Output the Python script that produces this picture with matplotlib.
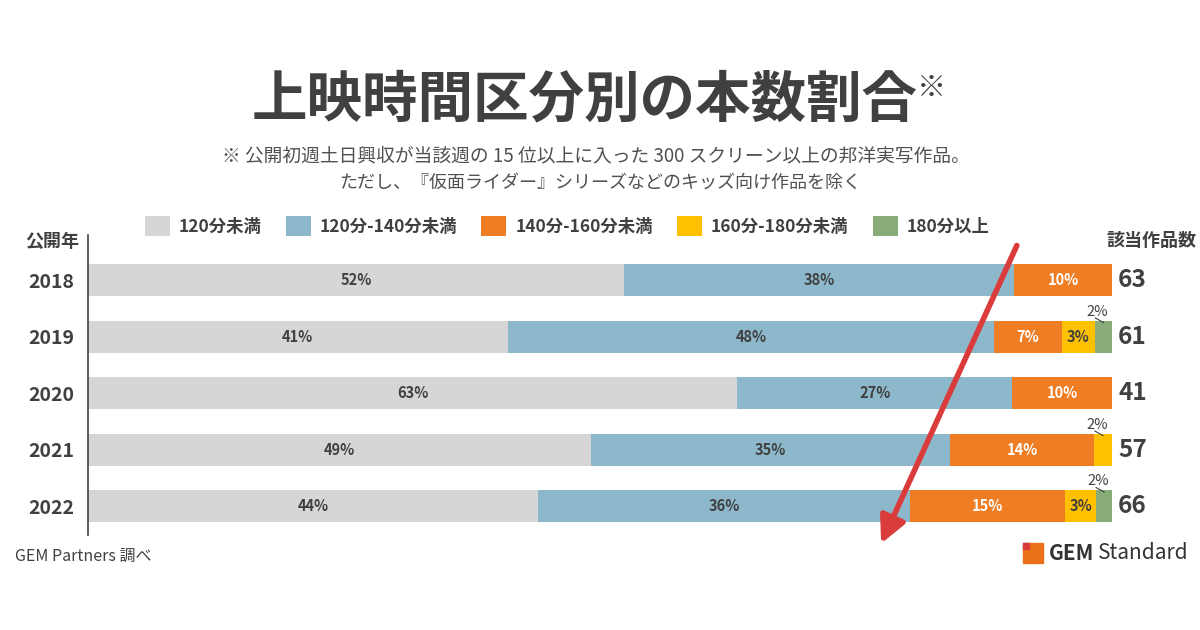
import numpy as np
import matplotlib
matplotlib.use('Agg')
import matplotlib.pyplot as plt
from matplotlib.patches import FancyArrowPatch, Rectangle

plt.rcParams['font.family'] = ['Noto Sans CJK JP', 'DejaVu Sans']

years = ['2018', '2019', '2020', '2021', '2022']
categories = ['120分未満', '120分-140分未満', '140分-160分未満', '160分-180分未満', '180分以上']
# estimated film counts per length class
under_120 = [33, 25, 26, 28, 29]
from_120 = [24, 29, 11, 20, 24]
from_140 = [6, 4, 4, 8, 10]
from_160 = [0, 2, 0, 1, 2]
over_180 = [0, 1, 0, 0, 1]
totals = [63, 61, 41, 57, 66]

colors = ['#D6D6D6', '#8DB8CB', '#EF7D24', '#FFC000', '#88AD79']
txt_colors = ['#404040', '#404040', 'white', '#404040', '#404040']
dark = '#404040'

series = np.array([under_120, from_120, from_140, from_160, over_180], dtype=float)
shares = series / np.array(totals, dtype=float)

fig = plt.figure(figsize=(12, 6.3), dpi=100)
ax = fig.add_axes([88 / 1200, 1 - 535 / 630, 1024 / 1200, 300 / 630])

y = np.arange(len(years))
left = np.zeros(len(years))
bars = []
for k in range(len(categories)):
    b = ax.barh(y, shares[k], left=left, height=0.57, color=colors[k],
                label=categories[k], zorder=2)
    bars.append(b)
    for i in range(len(years)):
        w = shares[k][i]
        if w <= 0:
            continue
        pct = '%d%%' % round(w * 100)
        cx = left[i] + w / 2
        if w < 0.025:
            # small segment: label above with a short leader line
            ax.text(cx - 0.006, y[i] - 0.44, pct, ha='center', va='center',
                    fontsize=10.5, color=dark)
            ax.plot([cx - 0.008, cx], [y[i] - 0.33, y[i] - 0.25], color=dark, lw=0.8, zorder=3)
        else:
            ax.text(cx, y[i], pct, ha='center', va='center', fontsize=10.5,
                    fontweight='bold', color=txt_colors[k], zorder=3)
    left += shares[k]

for i in range(len(years)):
    ax.text(1.006, y[i], str(totals[i]), ha='left', va='center', fontsize=17.5,
            fontweight='bold', color=dark, clip_on=False)

ax.set_xlim(0, 1)
ax.set_ylim(4.51, -0.80)
ax.set_yticks(y)
ax.set_yticklabels(years, fontsize=14, fontweight='bold', color=dark)
ax.tick_params(axis='y', length=0, pad=10)
ax.set_xticks([])
for s in ['top', 'right', 'bottom']:
    ax.spines[s].set_visible(False)
ax.spines['left'].set_color(dark)
ax.spines['left'].set_linewidth(1.2)

leg = ax.legend(handles=bars, loc='center', bbox_to_anchor=(567 / 1200, 1 - 226 / 630),
                bbox_transform=fig.transFigure, ncol=5, frameon=False,
                handlelength=1.45, handleheight=1.45, handletextpad=0.5, columnspacing=1.4,
                prop={'size': 12.5, 'weight': 'bold'})
for t in leg.get_texts():
    t.set_color(dark)

fig.text(52 / 1200, 1 - 241 / 630, '公開年', ha='center', va='center', fontsize=13,
         fontweight='bold', color=dark)
fig.text(1196 / 1200, 1 - 241 / 630, '該当作品数', ha='right', va='center', fontsize=13,
         fontweight='bold', color=dark)

# title
fig.text(585 / 1200, 1 - 100 / 630, '上映時間区分別の本数割合', ha='center', va='center',
         fontsize=40, fontweight='bold', color=dark)
fig.text(931 / 1200, 1 - 88 / 630, '※', ha='center', va='center', fontsize=21,
         fontweight='bold', color=dark)
fig.text(596 / 1200, 1 - 156 / 630,
         '※ 公開初週土日興収が当該週の 15 位以上に入った 300 スクリーン以上の邦洋実写作品。',
         ha='center', va='center', fontsize=13.5, color='#505050')
fig.text(600 / 1200, 1 - 183 / 630,
         'ただし、『仮面ライダー』シリーズなどのキッズ向け作品を除く',
         ha='center', va='center', fontsize=13, color='#505050')

fig.text(15 / 1200, 1 - 556 / 630, 'GEM Partners 調べ', ha='left', va='center',
         fontsize=11.5, color=dark)

# logo
fig.add_artist(Rectangle((1023 / 1200, 1 - 563 / 630), 20 / 1200, 20 / 630,
                         transform=fig.transFigure, color='#E8711A'))
fig.add_artist(Rectangle((1023 / 1200, 1 - 549 / 630), 6 / 1200, 6 / 630,
                         transform=fig.transFigure, color='#D93A3A'))
fig.text(1049 / 1200, 1 - 553 / 630, 'GEM', ha='left', va='center', fontsize=15,
         fontweight='bold', color='#333333')
fig.text(1098 / 1200, 1 - 553 / 630, 'Standard', ha='left', va='center', fontsize=15,
         color='#333333')

# red arrow
arrow = FancyArrowPatch((1018 / 1200, 1 - 243 / 630), (880 / 1200, 1 - 546 / 630),
                        transform=fig.transFigure, arrowstyle='-|>', mutation_scale=40,
                        lw=4, color='#DA3B3B', zorder=10)
fig.add_artist(arrow)

fig.savefig('out.png', dpi=100, facecolor='white')
